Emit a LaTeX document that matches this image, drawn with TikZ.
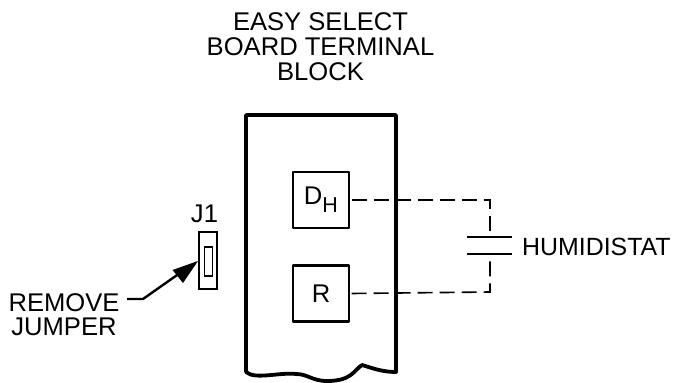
\documentclass[tikz,border=0pt]{standalone}
\usepackage{fontspec}
\setmainfont{Liberation Sans}
\usetikzlibrary{arrows.meta}
\tikzset{
  lbl/.style={inner sep=0pt,align=center,font=\fontsize{25.6}{25}\selectfont},
  termbox/.style={draw,line width=2.4pt,minimum width=56pt,minimum height=56pt,inner sep=0pt,line join=round,font=\fontsize{25.6}{25}\selectfont},
  wire/.style={line width=1.6pt,dash pattern=on 15pt off 7pt},
  plate/.style={line width=1.6pt},
}
\begin{document}
\begin{tikzpicture}[x=1pt,y=-1pt]
\useasboundingbox (0,0) rectangle (673,383);
\fill[white] (0,0) rectangle (673,383);
\node[lbl,anchor=base] (title) at (320.5,80) {EASY SELECT\\BOARD TERMINAL\\BLOCK};
% board
\draw[line width=3.8pt,line join=round,line cap=round] (246,372) -- (246,115) -- (396,115) -- (396,372)
  .. controls (382,372) and (372,368) .. (362,365)
  .. controls (354,370) and (352,381) .. (327,381)
  .. controls (312,381) and (308,374) .. (296,374)
  .. controls (280,372) and (255,380) .. (246,372);
\node[termbox] (dh) at (321,200) {D\raisebox{-0.32em}{\fontsize{21.5}{21}\selectfont H}};
\node[termbox] (r) at (321,293.5) {R};
% capacitor
\coordinate (top) at (490,236);
\coordinate (bot) at (490,255);
\draw[plate] (467,237) coordinate (t1) -- (512,237) coordinate (t2);
\draw[plate] (467,254) coordinate (b1) -- (512,254) coordinate (b2);
\draw[wire] (dh.east) ++(1.5,0) -- (490,200) -- (top);
\draw[wire] (r.east) ++(1.5,0) -- (490,292) -- (bot);
\node[lbl,anchor=base west,font=\fontsize{24.9}{25}\selectfont] (hum) at (522,255) {HUMIDISTAT};
% jumper
\node[draw,line width=1.5pt,minimum width=18pt,minimum height=57pt,inner sep=0pt] (j) at (208,260.5) {};
\node[draw,line width=1.2pt,minimum width=8pt,minimum height=29pt,inner sep=0pt] (ji) at (208.3,261.5) {};
\node[lbl,anchor=base] (j1) at (204.5,222) {J1};
\node[lbl,anchor=base,font=\fontsize{25.6}{23.5}\selectfont] (rem) at (64,335) {REMOVE\\JUMPER};
\coordinate (a0) at (127,299);
\coordinate (a1) at (143,299);
\draw[line width=2.4pt] (a0) -- (a1) -- (180,273);
\fill (198,261) -- (172.5,270) -- (183,283) -- cycle;
\end{tikzpicture}
\end{document}
